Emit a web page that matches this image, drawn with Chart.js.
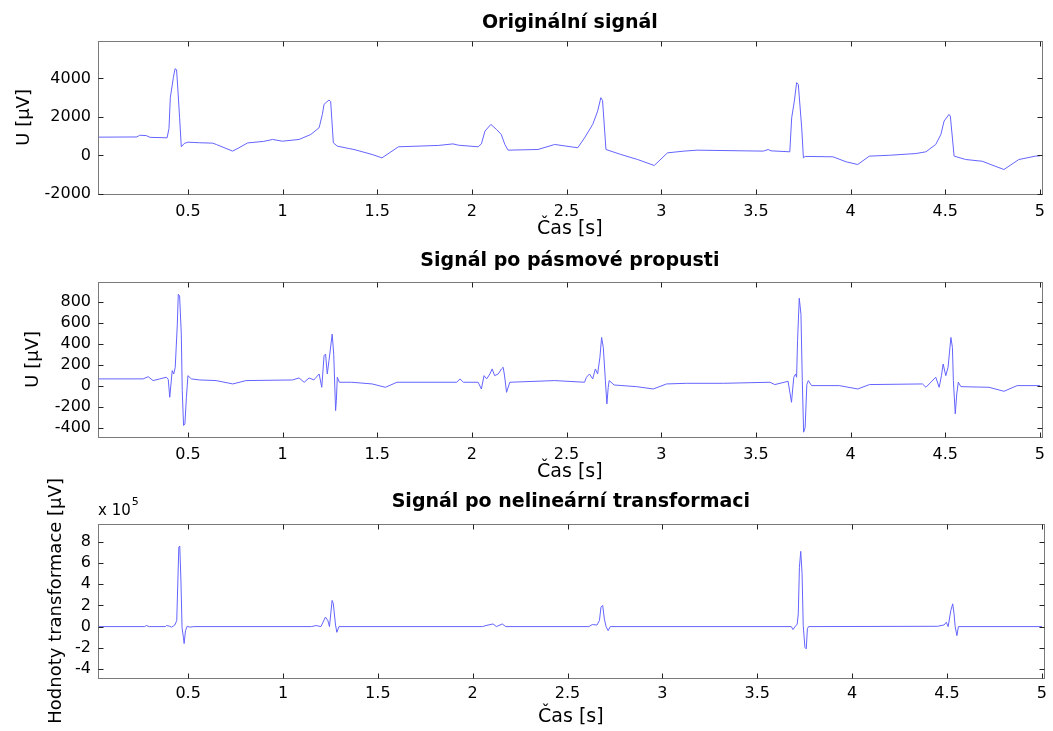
<!DOCTYPE html>
<html>
<head>
<meta charset="utf-8">
<script src="https://cdn.jsdelivr.net/npm/chart.js@4.4.0/dist/chart.umd.min.js"></script>
<style>
  body { margin: 0; background: #fff; }
  #wrap { position: relative; width: 1053px; height: 731px; }
  canvas { position: absolute; left: 0; }
</style>
</head>
<body>
<div id="wrap">
  <canvas id="c1" width="1053" height="243" style="top:0px"></canvas>
  <canvas id="c2" width="1053" height="243" style="top:243px"></canvas>
  <!-- starts a bit higher so the long y-title is not clipped; canvases are transparent -->
  <canvas id="c3" width="1053" height="265" style="top:466px"></canvas>
</div>
<script>
// Originální signál (t [s], U [µV])
const t_orig = [0.025, 0.23, 0.245, 0.28, 0.30, 0.39, 0.400, 0.407, 0.423, 0.432, 0.440, 0.447, 0.456, 0.465, 0.48, 0.50,
  0.56, 0.63, 0.65, 0.736, 0.77, 0.815, 0.90, 0.947, 0.999, 1.087, 1.149, 1.193, 1.21, 1.219, 1.23, 1.245, 1.254, 1.268,
  1.289, 1.35, 1.377, 1.473, 1.525, 1.612, 1.823, 1.90, 1.93, 2.033, 2.05, 2.069, 2.10, 2.13, 2.155, 2.174, 2.191, 2.349,
  2.437, 2.559, 2.595, 2.638, 2.664, 2.681, 2.69, 2.708, 2.787, 2.875, 2.963, 3.033, 3.12, 3.19, 3.539, 3.565, 3.58, 3.679,
  3.689, 3.703, 3.715, 3.724, 3.742, 3.751, 3.76, 3.907, 3.977, 4.038, 4.099, 4.205, 4.345, 4.398, 4.45, 4.477, 4.494, 4.52,
  4.527, 4.547, 4.608, 4.695, 4.81, 4.889, 4.977, 5.0];
const u_orig = [950, 960, 1050, 1030, 940, 915, 1400, 3000, 4035, 4500, 4450, 3400, 1955, 450, 620, 690,
  660, 640, 570, 225, 400, 650, 730, 830, 740, 830, 1090, 1440, 2130, 2650, 2750, 2875, 2800, 655,
  485, 360, 310, 50, -125, 450, 520, 600, 530, 450, 600, 1265, 1610, 1350, 1090, 570, 275, 310,
  570, 400, 915, 1610, 2300, 3000, 2850, 310, 50, -210, -520, 135, 225, 275, 225, 310, 240, 190,
  1955, 2820, 3775, 3690, 1435, -125, -50, -70, -330, -470, -35, 10, 100, 190, 570, 1090, 1785, 2130,
  2040, -35, -210, -300, -730, -210, -35, -20];

// Signál po pásmové propusti
const t_band = [0.025, 0.263, 0.29, 0.316, 0.351, 0.386, 0.396, 0.404, 0.417, 0.425, 0.433, 0.444, 0.449, 0.456, 0.465, 0.47,
  0.477, 0.484, 0.492, 0.50, 0.518, 0.562, 0.649, 0.737, 0.807, 1.052, 1.087, 1.114, 1.14, 1.165, 1.193, 1.207, 1.219, 1.227,
  1.236, 1.245, 1.262, 1.27, 1.28, 1.284, 1.289, 1.30, 1.365, 1.473, 1.543, 1.604, 1.92, 1.937, 1.955, 2.033, 2.05, 2.064,
  2.078, 2.095, 2.107, 2.12, 2.139, 2.156, 2.165, 2.172, 2.183, 2.20, 2.437, 2.595, 2.605, 2.621, 2.638, 2.652, 2.664, 2.676,
  2.685, 2.694, 2.705, 2.713, 2.72, 2.725, 2.751, 2.87, 2.958, 3.028, 3.133, 3.329, 3.574, 3.60, 3.67, 3.688, 3.70, 3.71,
  3.715, 3.72, 3.729, 3.738, 3.745, 3.752, 3.76, 3.769, 3.777, 3.794, 3.94, 4.038, 4.10, 4.38, 4.398, 4.45, 4.468, 4.48,
  4.489, 4.503, 4.515, 4.53, 4.538, 4.543, 4.553, 4.561, 4.569, 4.583, 4.731, 4.81, 4.88, 5.0];
const u_band = [64, 64, 85, 48, 64, 80, 60, -111, 143, 111, 175, 586, 871, 855, 491, -48,
  -380, -365, -111, 95, 64, 54, 48, 16, 48, 54, 73, 32, 73, 54, 111, -16, 285, 301,
  111, 238, 491, 300, -238, -143, 80, 32, 32, 16, -16, 32, 32, 64, 32, 32, -32, 95,
  64, 111, 159, 95, 111, 159, 175, 100, -64, 32, 48, 32, 80, 111, 64, 159, 111, 269,
  459, 364, 48, -174, -16, 48, 6, -10, -32, 16, 22, 22, 32, 10, 41, -159, 80, 111,
  80, 428, 833, 681, 48, -444, -400, 10, 48, 0, 0, -32, 10, 16, -16, 80, -16, 95,
  206, 95, 175, 459, 364, 48, -269, -79, 32, -10, -16, -54, 0, 0];

// Signál po nelineární transformaci (hodnoty x 10^5)
const t_trans = [0.025, 0.27, 0.281, 0.295, 0.38, 0.386, 0.40, 0.413, 0.43, 0.44, 0.451, 0.456, 0.462, 0.468, 0.475, 0.479,
  0.486, 0.495, 0.509, 0.53, 1.15, 1.175, 1.20, 1.224, 1.237, 1.245, 1.259, 1.265, 1.277, 1.284, 1.295, 2.052,
  2.07, 2.107, 2.125, 2.156, 2.174, 2.612, 2.63, 2.655, 2.668, 2.676, 2.685, 2.694, 2.703, 2.714, 2.725, 3.679,
  3.688, 3.703, 3.71, 3.716, 3.722, 3.729, 3.736, 3.742, 3.751, 3.758, 3.764, 3.77, 4.45, 4.485, 4.496, 4.506,
  4.52, 4.53, 4.537, 4.543, 4.552, 4.56, 5.0];
const v_trans_e5 = [0, 0, 0.1, 0, 0, 0.1, 0.05, -0.05, 0.15, 0.57, 7.5, 7.6, 4.4, -0.1, -1.0, -1.6,
  -0.4, 0.03, -0.05, 0, 0, 0.1, 0, 0.9, 0.55, 0, 2.47, 2.2, 0.15, -0.54, 0, 0,
  0.1, 0.25, 0, 0.25, 0, 0, 0.19, 0.15, 0.57, 1.83, 2.0, 0.7, 0, -0.38, 0, 0,
  -0.28, 0.1, 0.2, 1.2, 5.6, 7.1, 5.0, 0.1, -1.96, -2.1, -0.2, 0, 0.03, 0.16, 0.41, 0,
  1.52, 2.15, 1.2, 0, -0.85, 0, 0];

// tick labels
const timeTicks = [0.5, 1, 1.5, 2, 2.5, 3, 3.5, 4, 4.5, 5];
const origTicks = [-2000, 0, 2000, 4000];
const bandTicks = [-400, -200, 0, 200, 400, 600, 800];
const transTicks = [-4, -2, 0, 2, 4, 6, 8];

Chart.defaults.font.family = 'DejaVu Sans';
Chart.defaults.color = '#000';

// MATLAB-like box with inward ticks on all four sides
const boxTicks = {
  id: 'boxTicks',
  afterDraw(chart) {
    const { ctx, chartArea: a, scales: { x, y } } = chart;
    const L = Math.round(a.left) + 0.5, R = Math.round(a.right) + 0.5;
    const T = Math.round(a.top) + 0.5, B = Math.round(a.bottom) + 0.5;
    ctx.save();
    ctx.strokeStyle = '#7a7a7a';
    ctx.lineWidth = 1;
    ctx.strokeRect(L, T, R - L, B - T);
    ctx.strokeStyle = '#222';
    ctx.beginPath();
    x.ticks.forEach(t => {
      const px = Math.round(x.getPixelForValue(t.value)) + 0.5;
      ctx.moveTo(px, T); ctx.lineTo(px, T + 5);
      ctx.moveTo(px, B); ctx.lineTo(px, B - 5);
    });
    y.ticks.forEach(t => {
      const py = Math.round(y.getPixelForValue(t.value)) + 0.5;
      ctx.moveTo(L, py); ctx.lineTo(L + 5, py);
      ctx.moveTo(R, py); ctx.lineTo(R - 5, py);
    });
    ctx.stroke();
    ctx.restore();
  }
};

// exponent label above the third plot
const exponentLabel = {
  id: 'exponentLabel',
  afterDraw(chart) {
    const { ctx, chartArea: a } = chart;
    ctx.save();
    ctx.fillStyle = '#000';
    ctx.textBaseline = 'middle';
    ctx.font = '15px "DejaVu Sans"';
    ctx.fillText('x 10', a.left, a.top - 13);
    const w = ctx.measureText('x 10').width;
    ctx.font = '11px "DejaVu Sans"';
    ctx.fillText('5', a.left + w + 1, a.top - 22);
    ctx.restore();
  }
};

window.renderSignal = function (canvasId, cfg) {
  const canvas = document.getElementById(canvasId);
  const ctx = canvas.getContext('2d');
  return new Chart(ctx, {
    type: 'line',
    data: {
      datasets: [{
        data: cfg.t.map((t, i) => ({ x: t, y: cfg.v[i] })),
        borderColor: '#6464ff',
        borderWidth: 1,
        pointRadius: 0,
        tension: 0,
        fill: false
      }]
    },
    options: {
      responsive: false,
      animation: false,
      events: [],
      layout: { padding: { left: 0, right: 7, top: 0, bottom: 0 } },
      plugins: {
        legend: { display: false },
        tooltip: { enabled: false },
        title: {
          display: true,
          fullSize: false,
          text: cfg.title,
          font: { size: 19, weight: 'bold' },
          color: '#000',
          padding: cfg.titlePad
        }
      },
      scales: {
        x: {
          type: 'linear',
          min: 0.025,
          max: 5.01,
          afterFit: s => { s.height = cfg.xHeight; },
          afterBuildTicks: s => { s.ticks = timeTicks.map(v => ({ value: v })); },
          grid: { display: false, drawTicks: false },
          border: { display: false },
          ticks: { font: { size: 16 }, padding: cfg.xTickPad, maxRotation: 0, callback: v => String(v) },
          title: { display: true, text: 'Čas [s]', font: { size: 19 }, padding: { top: 0, bottom: 3 } }
        },
        y: {
          type: 'linear',
          min: cfg.yMin,
          max: cfg.yMax,
          afterFit: s => { s.width = 98; },
          afterBuildTicks: s => { s.ticks = cfg.yTicks.map(v => ({ value: v })); },
          grid: { display: false, drawTicks: false },
          border: { display: false },
          ticks: { font: { size: 16 }, padding: 7, callback: v => String(v) },
          title: { display: true, text: cfg.yTitle, font: { size: 18 }, padding: { top: cfg.yTitlePad, bottom: 0 } }
        }
      }
    },
    plugins: cfg.extra ? [boxTicks, cfg.extra] : [boxTicks]
  });
};

renderSignal('c1', {
  t: t_orig, v: u_orig, title: 'Originální signál', titlePad: { top: 12, bottom: 6 },
  yMin: -2000, yMax: 5950, yTicks: origTicks, yTitle: 'U [μV]', yTitlePad: 14, xHeight: 49, xTickPad: 8
});
renderSignal('c2', {
  t: t_band, v: u_band, title: 'Signál po pásmové propusti', titlePad: { top: 7, bottom: 9 },
  yMin: -490, yMax: 990, yTicks: bandTicks, yTitle: 'U [μV]', yTitlePad: 23, xHeight: 49, xTickPad: 8
});
renderSignal('c3', {
  t: t_trans, v: v_trans_e5, title: 'Signál po nelineární transformaci', titlePad: { top: 25, bottom: 10 },
  yMin: -4.85, yMax: 9.7, yTicks: transTicks, yTitle: 'Hodnoty transformace [μV]', yTitlePad: 46, xHeight: 53, xTickPad: 6,
  extra: exponentLabel
});
</script>
</body>
</html>
